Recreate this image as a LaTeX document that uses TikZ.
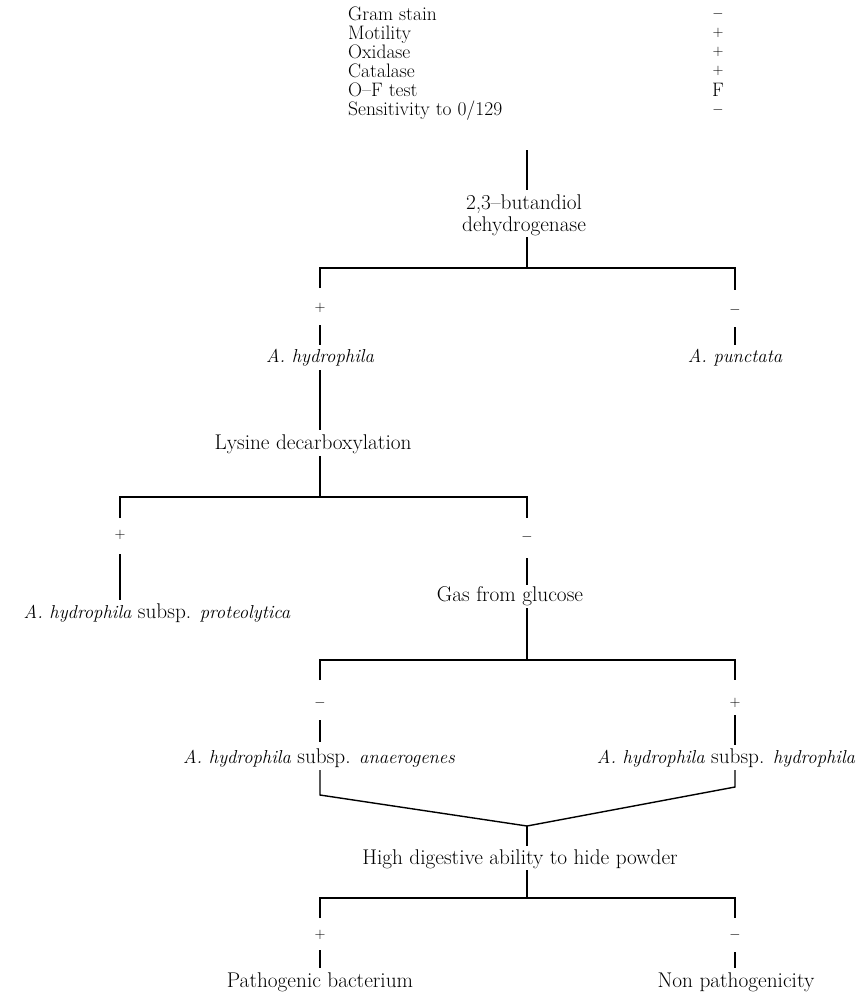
\documentclass[tikz,border=0pt]{standalone}
\newcommand{\spn}[1]{{\fontsize{18.7}{20}\selectfont\itshape #1}}
\begin{document}
\begin{tikzpicture}[x=1pt,y=-1pt,
  txt/.style={font=\fontsize{21.3}{22}\selectfont, inner sep=0pt, anchor=base},
  lft/.style={font=\fontsize{19.5}{19}\selectfont, inner sep=0pt, anchor=base west},
  sgn/.style={font=\fontsize{15}{15}\selectfont, inner sep=0pt},
  ln/.style={line width=1.4pt}
]
\useasboundingbox (0,0) rectangle (859,996);
% characteristics list
\node[lft] (gram) at (348,20.5) {Gram stain};
\node[lft] (mot)  at (348,39.5) {Motility};
\node[lft] (oxi)  at (348,58.5) {Oxidase};
\node[lft] (cat)  at (348,77.5) {Catalase};
\node[lft] (of)   at (348,96.5) {O--F test};
\node[lft] (sens) at (348,115.5) {Sensitivity to 0/129};
\node[sgn] (sgram) at (718,14) {$-$};
\node[sgn] (smot)  at (718,33) {$+$};
\node[sgn] (soxi)  at (718,52) {$+$};
\node[sgn] (scat)  at (718,71) {$+$};
\node[lft, anchor=base] (sof) at (718,96.5) {F};
\node[sgn] (ssens) at (718,110) {$-$};
% butandiol
\coordinate (a0) at (527,150);
\coordinate (a1) at (527,190);
\draw[ln] (a0) -- (a1);
\node[font=\fontsize{21.3}{22}\selectfont, inner sep=0pt, align=center] (bd) at (524,215) {2,3--butandiol\\dehydrogenase};
\coordinate (a2) at (527,237);
\coordinate (j1) at (527,268);
\coordinate (j1l) at (320,268);
\coordinate (j1r) at (735,268);
\coordinate (d1l) at (320,288);
\coordinate (d1r) at (735,290);
\draw[ln] (a2) -- (j1);
\draw[ln] (d1l) -- (j1l) -- (j1r) -- (d1r);
\node[sgn] (p1) at (320,308) {$+$};
\node[sgn] (m1) at (735,310) {$-$};
\coordinate (e1a) at (320,325); \coordinate (e1b) at (320,345);
\coordinate (e2a) at (735,327); \coordinate (e2b) at (735,345);
\draw[ln] (e1a) -- (e1b);
\draw[ln] (e2a) -- (e2b);
\node[txt] (ahyd) at (320,362) {\spn{A. hydrophila}};
\node[txt] (apun) at (735,362) {\spn{A. punctata}};
% lysine
\coordinate (b0) at (320,370); \coordinate (b1) at (320,430);
\draw[ln] (b0) -- (b1);
\node[txt] (lys) at (313,449) {Lysine decarboxylation};
\coordinate (b2) at (320,456); \coordinate (j2) at (320,497);
\coordinate (j2l) at (120,497); \coordinate (j2r) at (527,497);
\coordinate (d2l) at (120,518); \coordinate (d2r) at (527,518);
\draw[ln] (b2) -- (j2);
\draw[ln] (d2l) -- (j2l) -- (j2r) -- (d2r);
\node[sgn] (p2) at (120,535) {$+$};
\node[sgn] (m2) at (527,537) {$-$};
\coordinate (f1a) at (120,554); \coordinate (f1b) at (120,600);
\coordinate (f2a) at (527,558); \coordinate (f2b) at (527,585);
\draw[ln] (f1a) -- (f1b);
\draw[ln] (f2a) -- (f2b);
\node[txt] (prot) at (157,618) {\spn{A. hydrophila} subsp. \spn{proteolytica}};
\node[txt] (gas) at (510,601) {Gas from glucose};
% gas
\coordinate (c0) at (527,608); \coordinate (j3) at (527,660);
\coordinate (j3l) at (320,660); \coordinate (j3r) at (735,660);
\coordinate (d3l) at (320,680); \coordinate (d3r) at (735,680);
\draw[ln] (c0) -- (j3);
\draw[ln] (d3l) -- (j3l) -- (j3r) -- (d3r);
\node[sgn] (m3) at (320,703) {$-$};
\node[sgn] (p3) at (735,703) {$+$};
\coordinate (g1a) at (320,720); \coordinate (g1b) at (320,742);
\coordinate (g2a) at (735,715); \coordinate (g2b) at (735,745);
\draw[ln] (g1a) -- (g1b);
\draw[ln] (g2a) -- (g2b);
\node[txt] (anae) at (319,763) {\spn{A. hydrophila} subsp. \spn{anaerogenes}};
\node[txt] (hydr) at (726,763) {\spn{A. hydrophila} subsp. \spn{hydrophila}};
% merge
\coordinate (h1a) at (320,770); \coordinate (h1b) at (320,795);
\coordinate (h2a) at (735,770); \coordinate (h2b) at (735,787);
\coordinate (apex) at (527,826); \coordinate (h3) at (527,846);
\draw[ln] (h1a) -- (h1b) -- (apex) -- (h2b) -- (h2a);
\draw[ln] (apex) -- (h3);
\node[txt] (high) at (520,864) {High digestive ability to hide powder};
\coordinate (k0) at (527,870); \coordinate (j4) at (527,898);
\coordinate (j4l) at (320,898); \coordinate (j4r) at (735,898);
\coordinate (d4l) at (320,918); \coordinate (d4r) at (735,918);
\draw[ln] (k0) -- (j4);
\draw[ln] (d4l) -- (j4l) -- (j4r) -- (d4r);
\node[sgn] (p4) at (320,935) {$+$};
\node[sgn] (m4) at (735,935) {$-$};
\coordinate (q1a) at (320,950); \coordinate (q1b) at (320,968);
\coordinate (q2a) at (735,952); \coordinate (q2b) at (735,968);
\draw[ln] (q1a) -- (q1b);
\draw[ln] (q2a) -- (q2b);
\node[txt] (path) at (320,987) {Pathogenic bacterium};
\node[txt] (nonp) at (736,987) {Non pathogenicity};
\end{tikzpicture}
\end{document}
